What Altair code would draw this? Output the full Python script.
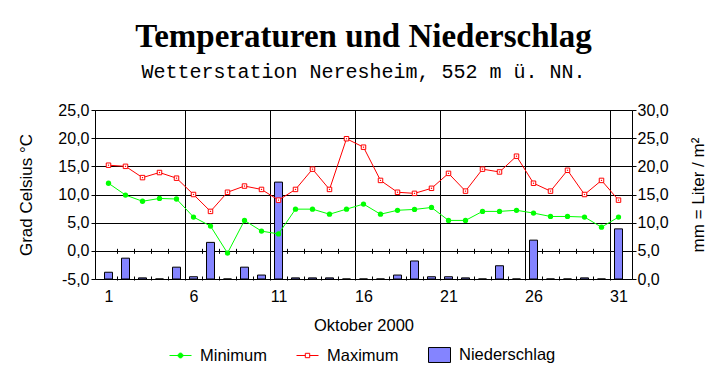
import altair as alt
import pandas as pd

# ---------------- data ----------------
days = list(range(1, 32))
t_min = [12.0, 9.9, 8.8, 9.3, 9.2, 6.0, 4.4, -0.4, 5.4, 3.5,
         3.0, 7.4, 7.4, 6.5, 7.4, 8.3, 6.5, 7.2, 7.35, 7.7,
         5.4, 5.4, 7.0, 7.0, 7.2, 6.7, 6.1, 6.1, 6.0, 4.2, 6.0]
t_max = [15.2, 15.0, 13.0, 13.9, 12.9, 10.0, 7.0, 10.4, 11.5, 10.9,
         9.0, 10.9, 14.5, 10.9, 19.9, 18.4, 12.5, 10.4, 10.2, 11.1,
         13.75, 10.6, 14.5, 14.0, 16.8, 12.0, 10.6, 14.3, 10.0, 12.5, 9.0]
precip = [1.2, 3.7, 0.2, 0.0, 2.1, 0.4, 6.5, 0.0, 2.1, 0.7,
          17.2, 0.2, 0.2, 0.2, 0.0, 0.0, 0.0, 0.7, 3.2, 0.4,
          0.4, 0.2, 0.0, 2.35, 0.0, 6.9, 0.0, 0.0, 0.2, 0.0, 8.9]
day_labels = [1, 6, 11, 16, 21, 26, 31]
temp_ticks = [-5, 0, 5, 10, 15, 20, 25]
rain_ticks = [0, 5, 10, 15, 20, 25, 30]
series_names = ["Minimum", "Maximum", "Niederschlag"]

# category boundaries (tick marks) and major grid positions
boundaries = [d + 0.5 for d in days[:-1]]
grid_vals = [d - 0.5 for d in day_labels[1:]]

df = pd.DataFrame({"Tag": days, "Minimum": t_min, "Maximum": t_max,
                   "Niederschlag": precip})
legend_df = pd.DataFrame({"Reihe": series_names})

# ---------------- style ----------------
FONT = "Liberation Sans"
GREEN = "#00ff00"
RED = "#ff0000"
BAR_FILL = "#8484ff"
W, H = 537, 169
zero_y = H * 25 / 30  # pixel position of 0 °C from the top

label_expr = "(datum.value < 0 ? '-' : '') + replace(format(abs(datum.value), '.1f'), '.', ',')"

xs = alt.Scale(domain=[0.5, 31.5], nice=False, zero=False)
ys_temp = alt.Scale(domain=[-5, 25], nice=False, zero=False)
ys_rain = alt.Scale(domain=[0, 30], nice=False, zero=True)

x_label_axis = alt.Axis(values=day_labels, orient="bottom", ticks=False, tickSize=0,
                        domain=False, grid=False, labelFont=FONT, labelFontSize=16,
                        labelColor="black", labelPadding=9, labelFlush=False,
                        labelOverlap=False, title="Oktober 2000", titleFont=FONT,
                        titleFontSize=16.5, titleFontWeight="normal", titleColor="black",
                        titleY=46, titleBaseline="middle")
x_grid_axis = alt.Axis(values=grid_vals, orient="bottom", labels=False, ticks=False,
                       domain=False, grid=True, gridColor="black", gridOpacity=1,
                       gridWidth=1, title=None)
x_tick_bottom = alt.Axis(values=boundaries, orient="top", offset=-(H + 1), labels=False,
                         ticks=True, tickSize=4, tickColor="black", tickWidth=1,
                         domain=False, grid=False, title=None)
x_tick_zero = alt.Axis(values=boundaries, orient="top", offset=-(zero_y + 2.5),
                       labels=False, ticks=True, tickSize=5, tickColor="black",
                       tickWidth=1, domain=False, grid=False, title=None)

temp_axis = alt.Axis(values=temp_ticks, orient="left", grid=True, gridColor="black",
                     gridOpacity=1, domain=False, ticks=True, tickSize=4,
                     tickColor="black", labelExpr=label_expr, labelFont=FONT,
                     labelFontSize=16, labelColor="black", labelPadding=2,
                     labelFlush=False, labelOverlap=False,
                     title="Grad Celsius °C", titleFont=FONT, titleFontSize=17,
                     titleFontWeight="normal", titleColor="black", titleAngle=270,
                     titleX=-69, titleY=H / 2, titleBaseline="middle",
                     titleAlign="center")
rain_axis = alt.Axis(values=rain_ticks, orient="right", grid=False, domain=False,
                     ticks=True, tickSize=4, tickColor="black", labelExpr=label_expr,
                     labelFont=FONT, labelFontSize=16, labelColor="black",
                     labelPadding=1, labelFlush=False, labelOverlap=False,
                     title="mm = Liter / m²", titleFont=FONT, titleFontSize=17,
                     titleFontWeight="normal", titleColor="black", titleAngle=270,
                     titleX=66, titleY=H / 2, titleBaseline="middle",
                     titleAlign="center")

base = alt.Chart(df)

bars = base.mark_bar(size=8, fill=BAR_FILL, stroke="black", strokeWidth=1,
                     orient="vertical").encode(
    x=alt.X("Tag:Q", scale=xs, axis=x_tick_bottom),
    y=alt.Y("Niederschlag:Q", scale=ys_rain, axis=rain_axis),
    y2=alt.datum(0),
)

min_line = base.mark_line(color=GREEN, strokeWidth=1).encode(
    x=alt.X("Tag:Q", scale=xs, axis=x_label_axis),
    y=alt.Y("Minimum:Q", scale=ys_temp, axis=temp_axis),
)
max_line = base.mark_line(color=RED, strokeWidth=1).encode(
    x=alt.X("Tag:Q", scale=xs, axis=x_grid_axis),
    y=alt.Y("Maximum:Q", scale=ys_temp, axis=temp_axis),
)
min_pts = base.mark_point(shape="circle", filled=True, size=28, color=GREEN,
                          opacity=1).encode(
    x=alt.X("Tag:Q", scale=xs, axis=x_tick_zero),
    y=alt.Y("Minimum:Q", scale=ys_temp, axis=temp_axis),
)
max_pts = base.mark_point(shape="square", filled=True, size=20, fill="white",
                          stroke=RED, strokeWidth=1, opacity=1).encode(
    x=alt.X("Tag:Q", scale=xs, axis=None),
    y=alt.Y("Maximum:Q", scale=ys_temp, axis=temp_axis),
)
max_dots = base.mark_point(shape="square", filled=True, size=1.5, color=RED,
                           opacity=1).encode(
    x=alt.X("Tag:Q", scale=xs, axis=None),
    y=alt.Y("Maximum:Q", scale=ys_temp, axis=temp_axis),
)

temp = alt.layer(min_line, max_line, min_pts, max_pts, max_dots).resolve_axis(
    x="independent")

# legend: library legend driven by explicit scale domains (layer draws no marks)
PATH_MIN = "M-1,0H1M-0.22,0A0.22,0.22,0,1,1,0.22,0A0.22,0.22,0,1,1,-0.22,0Z"
PATH_MAX = "M-1,0H-0.2M0.2,0H1M-0.2,-0.2H0.2V0.2H-0.2Z"
PATH_BOX = "M-1,-0.68H1V0.68H-1Z"
leg = alt.Legend(orient="none", legendX=74, legendY=233.5, direction="horizontal",
                 title=None, symbolSize=484, symbolStrokeWidth=1, labelFont=FONT,
                 labelFontSize=16.5, labelColor="black", labelOffset=8,
                 columnPadding=27, padding=0, symbolOpacity=1)
legend_layer = alt.Chart(legend_df).mark_point(filled=True, size=484).encode(
    fill=alt.Fill("Reihe:N", scale=alt.Scale(domain=series_names,
                                             range=[GREEN, "white", BAR_FILL]),
                  legend=leg),
    stroke=alt.Stroke("Reihe:N", scale=alt.Scale(domain=series_names,
                                                 range=[GREEN, RED, "black"]),
                      legend=leg),
    shape=alt.Shape("Reihe:N", scale=alt.Scale(domain=series_names,
                                               range=[PATH_MIN, PATH_MAX, PATH_BOX]),
                    legend=leg),
).transform_filter("false")

chart = alt.layer(bars, temp, legend_layer).resolve_scale(
    y="independent").resolve_axis(x="independent").properties(
    width=W, height=H, autosize="none",
    padding={"left": 95, "top": 110, "right": 93, "bottom": 105},
    background="white",
    title=alt.TitleParams(text="Temperaturen und Niederschlag",
                          subtitle="Wetterstation Neresheim, 552 m ü. NN.",
                          font="Liberation Serif", fontSize=33, fontWeight="bold",
                          color="black", subtitleFont="Liberation Mono",
                          subtitleFontSize=20, subtitleColor="black",
                          subtitlePadding=8, anchor="middle", offset=20,
                          frame="group"),
).configure_view(stroke="black", strokeWidth=1)

chart.save("out.html", embed_options={"renderer": "svg", "actions": False})
